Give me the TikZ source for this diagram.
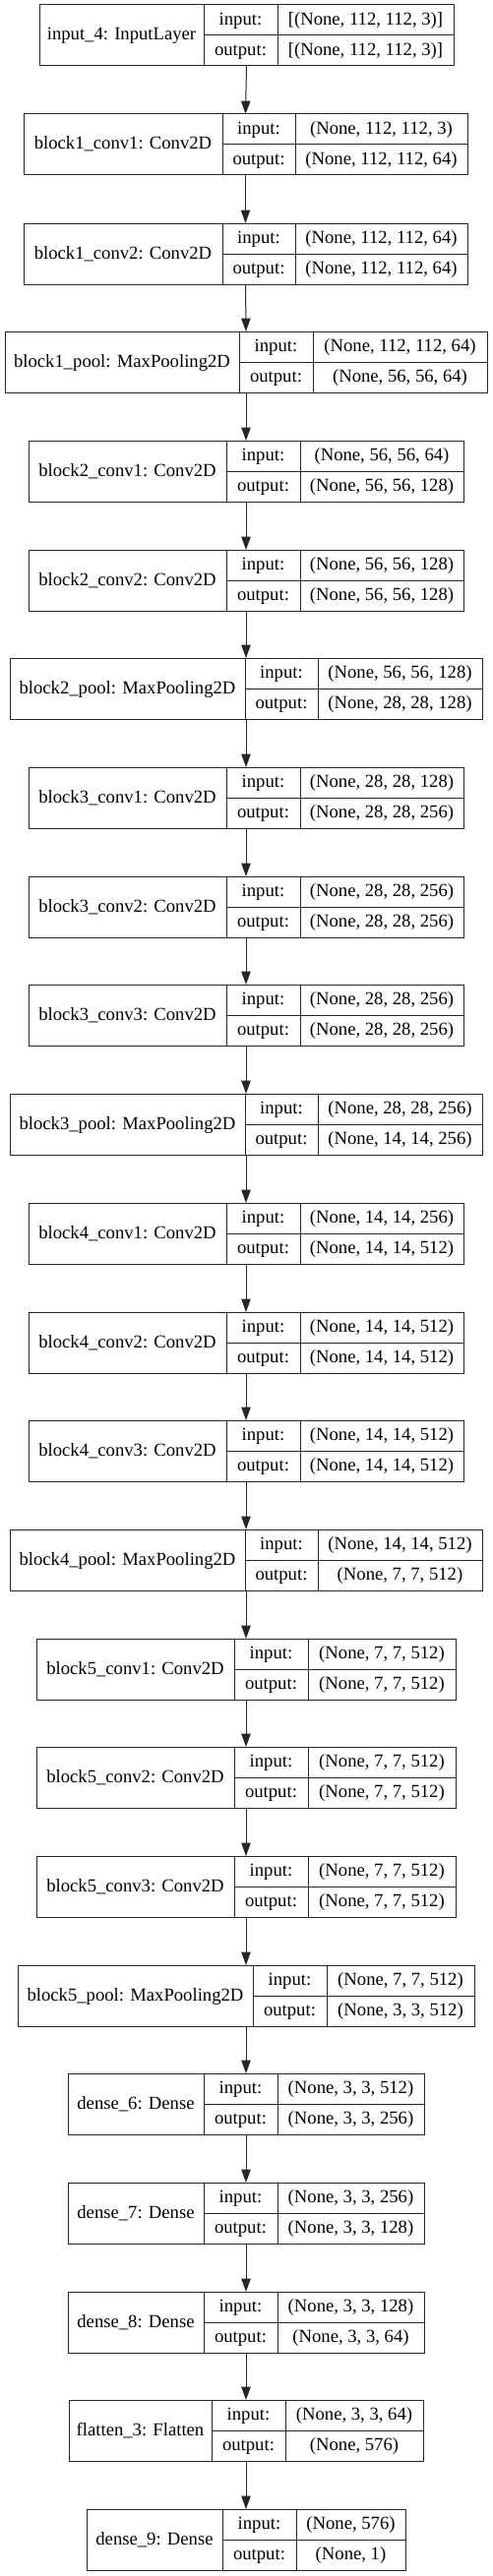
\documentclass[tikz,border=0pt]{standalone}
\usepackage{fontspec}
\setmainfont{Liberation Serif}
\usetikzlibrary{arrows.meta}
\tikzset{
  x=0.75pt, y=-0.75pt,
  lbox/.style={draw=black!85, line width=0.75pt, inner sep=0pt, outer sep=0pt, fill=none},
  lline/.style={draw=black!85, line width=0.75pt},
  txt/.style={anchor=base, inner sep=0pt, font=\fontsize{14pt}{16pt}\selectfont},
  arr/.style={draw=black!85, line width=0.75pt, -{Triangle[length=10pt,width=7pt]}}
}
\newcommand{\kerasrow}[9]{%
  \node[lbox, minimum width={(#6-#3)*0.75pt}, minimum height=46.5pt] (#1) at ({(#3+#6)/2},{#2+31}) {};
  \draw[lline] (#4,#2) -- (#4,#2+62);
  \draw[lline] (#5,#2) -- (#5,#2+62);
  \draw[lline] (#4,#2+31) -- (#6,#2+31);
  \node[txt] (#1-name) at ({(#3+#4)/2},{#2+36}) {#7};
  \node[txt] (#1-inl) at ({(#4+#5)/2},{#2+20.5}) {input:};
  \node[txt] (#1-outl) at ({(#4+#5)/2},{#2+51.5}) {output:};
  \node[txt] (#1-in) at ({(#5+#6)/2},{#2+20.5}) {#8};
  \node[txt] (#1-out) at ({(#5+#6)/2},{#2+51.5}) {#9};
}
\begin{document}
\begin{tikzpicture}
\useasboundingbox[fill=white] (0,0) rectangle (500,2619);
\kerasrow{L1}{5}{40}{207}{282}{461}{input\_4: InputLayer}{[(None, 112, 112, 3)]}{[(None, 112, 112, 3)]}
\kerasrow{L2}{116}{24}{226}{300}{475}{block1\_conv1: Conv2D}{(None, 112, 112, 3)}{(None, 112, 112, 64)}
\kerasrow{L3}{227}{24}{226}{300}{475}{block1\_conv2: Conv2D}{(None, 112, 112, 64)}{(None, 112, 112, 64)}
\kerasrow{L4}{337}{5}{243}{318}{495}{block1\_pool: MaxPooling2D}{(None, 112, 112, 64)}{(None, 56, 56, 64)}
\kerasrow{L5}{448}{29}{230}{305}{471}{block2\_conv1: Conv2D}{(None, 56, 56, 64)}{(None, 56, 56, 128)}
\kerasrow{L6}{559}{29}{230}{305}{471}{block2\_conv2: Conv2D}{(None, 56, 56, 128)}{(None, 56, 56, 128)}
\kerasrow{L7}{669}{10}{249}{323}{490}{block2\_pool: MaxPooling2D}{(None, 56, 56, 128)}{(None, 28, 28, 128)}
\kerasrow{L8}{780}{29}{230}{305}{471}{block3\_conv1: Conv2D}{(None, 28, 28, 128)}{(None, 28, 28, 256)}
\kerasrow{L9}{891}{29}{230}{305}{471}{block3\_conv2: Conv2D}{(None, 28, 28, 256)}{(None, 28, 28, 256)}
\kerasrow{L10}{1001}{29}{230}{305}{471}{block3\_conv3: Conv2D}{(None, 28, 28, 256)}{(None, 28, 28, 256)}
\kerasrow{L11}{1112}{10}{249}{323}{490}{block3\_pool: MaxPooling2D}{(None, 28, 28, 256)}{(None, 14, 14, 256)}
\kerasrow{L12}{1223}{29}{230}{305}{471}{block4\_conv1: Conv2D}{(None, 14, 14, 256)}{(None, 14, 14, 512)}
\kerasrow{L13}{1334}{29}{230}{305}{471}{block4\_conv2: Conv2D}{(None, 14, 14, 512)}{(None, 14, 14, 512)}
\kerasrow{L14}{1444}{29}{230}{305}{471}{block4\_conv3: Conv2D}{(None, 14, 14, 512)}{(None, 14, 14, 512)}
\kerasrow{L15}{1555}{10}{249}{323}{490}{block4\_pool: MaxPooling2D}{(None, 14, 14, 512)}{(None, 7, 7, 512)}
\kerasrow{L16}{1666}{37}{238}{313}{463}{block5\_conv1: Conv2D}{(None, 7, 7, 512)}{(None, 7, 7, 512)}
\kerasrow{L17}{1776}{37}{238}{313}{463}{block5\_conv2: Conv2D}{(None, 7, 7, 512)}{(None, 7, 7, 512)}
\kerasrow{L18}{1887}{37}{238}{313}{463}{block5\_conv3: Conv2D}{(None, 7, 7, 512)}{(None, 7, 7, 512)}
\kerasrow{L19}{1998}{18}{257}{332}{482}{block5\_pool: MaxPooling2D}{(None, 7, 7, 512)}{(None, 3, 3, 512)}
\kerasrow{L20}{2108}{69}{207}{282}{431}{dense\_6: Dense}{(None, 3, 3, 512)}{(None, 3, 3, 256)}
\kerasrow{L21}{2219}{69}{207}{282}{431}{dense\_7: Dense}{(None, 3, 3, 256)}{(None, 3, 3, 128)}
\kerasrow{L22}{2330}{69}{207}{282}{431}{dense\_8: Dense}{(None, 3, 3, 128)}{(None, 3, 3, 64)}
\kerasrow{L23}{2440}{70}{215}{290}{430}{flatten\_3: Flatten}{(None, 3, 3, 64)}{(None, 576)}
\kerasrow{L24}{2551}{88}{226}{301}{412}{dense\_9: Dense}{(None, 576)}{(None, 1)}
\foreach \a/\b in {L1/L2,L2/L3,L3/L4,L4/L5,L5/L6,L6/L7,L7/L8,L8/L9,L9/L10,L10/L11,L11/L12,L12/L13,L13/L14,L14/L15,L15/L16,L16/L17,L17/L18,L18/L19,L19/L20,L20/L21,L21/L22,L22/L23,L23/L24}
  \draw[arr] (\a.south) -- (\b.north);
\end{tikzpicture}
\end{document}
